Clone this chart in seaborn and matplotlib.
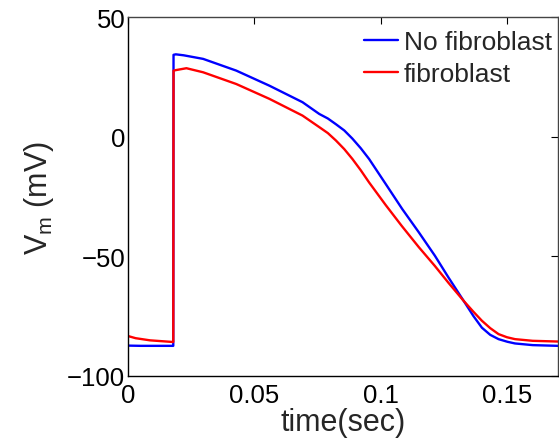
import matplotlib
matplotlib.use("Agg")
import matplotlib.pyplot as plt
import seaborn as sns
import pandas as pd

# ---- data ----
t_nofib = [0.0, 0.005, 0.010, 0.0179, 0.0180, 0.0189, 0.022, 0.0297, 0.0428,
           0.0559, 0.069, 0.0756, 0.0790, 0.0822, 0.0855, 0.0887, 0.0920, 0.0953,
           0.1019, 0.1084, 0.1150, 0.1213, 0.1268, 0.1327, 0.1366, 0.1399, 0.1432,
           0.1465, 0.1500, 0.1530, 0.1600, 0.1700]
v_nofib = [-87.3, -87.4, -87.4, -87.4, 34.2, 34.4, 34.0, 32.5, 27.6,
           21.3, 14.4, 9.5, 7.6, 5.2, 2.6, -0.8, -4.8, -9.3,
           -19.8, -30.2, -40.0, -49.7, -59.0, -68.6, -75.0, -79.8, -82.8,
           -84.6, -85.7, -86.4, -87.1, -87.4]

t_fib = [0.0, 0.003, 0.0087, 0.0179, 0.0180, 0.0189, 0.0231, 0.0297, 0.0428,
         0.0559, 0.069, 0.0756, 0.0790, 0.0822, 0.0855, 0.0887, 0.0920, 0.0953,
         0.1019, 0.1083, 0.1150, 0.1213, 0.1268, 0.1327, 0.1366, 0.1399, 0.1432,
         0.1465, 0.1498, 0.1530, 0.1600, 0.1700]
v_fib = [-83.3, -84.2, -85.1, -85.8, 27.6, 27.8, 28.6, 26.9, 22.0,
         15.8, 8.8, 4.0, 1.5, -1.6, -5.2, -9.3, -14.0, -19.1,
         -28.6, -37.4, -46.2, -54.0, -61.2, -68.6, -73.2, -76.9, -80.0,
         -82.5, -83.8, -84.6, -85.3, -85.6]

series_names = ["No fibroblast", "fibroblast"]
series_colors = ["#0000ff", "#ff0000"]
x_ticks = [0, 0.05, 0.1, 0.15]
x_ticklabels = ["0", "0.05", "0.1", "0.15"]
y_ticks = [-100, -50, 0, 50]
y_ticklabels = ["\u2212100", "\u221250", "0", "50"]

df = pd.concat([
    pd.DataFrame({"t": t_nofib, "v": v_nofib, "series": series_names[0]}),
    pd.DataFrame({"t": t_fib, "v": v_fib, "series": series_names[1]}),
], ignore_index=True)

sns.set_style("white")
plt.rcParams["font.family"] = ["Liberation Sans", "DejaVu Sans"]
plt.rcParams["mathtext.fontset"] = "custom"
plt.rcParams["mathtext.rm"] = "Liberation Sans"
plt.rcParams["mathtext.it"] = "Liberation Sans"

fig = plt.figure(figsize=(5.59, 4.39), dpi=100)
ax = fig.add_axes([128 / 559, 1 - 377 / 439, 430 / 559, 359 / 439])

sns.lineplot(data=df, x="t", y="v", hue="series", hue_order=series_names,
             palette=dict(zip(series_names, series_colors)), linewidth=1.7,
             estimator=None, sort=False, ax=ax)

ax.set_xlim(0, 0.17)
ax.set_ylim(-100, 50)
ax.set_xticks(x_ticks)
ax.set_xticklabels(x_ticklabels)
ax.set_yticks(y_ticks)
ax.set_yticklabels(y_ticklabels)
ax.tick_params(direction="in", length=5, width=0.8, labelsize=18.5,
               top=True, right=True, colors="black", pad=2)
ax.tick_params(axis="x", pad=5)
for s in ["left", "bottom"]:
    ax.spines[s].set_color("black")
    ax.spines[s].set_linewidth(1.0)
for s in ["top", "right"]:
    ax.spines[s].set_color("#444444")
    ax.spines[s].set_linewidth(1.0)

ax.set_xlabel("time(sec)", fontsize=22, labelpad=0)
ax.set_ylabel("V$_\\mathregular{m}$ (mV)", fontsize=22, labelpad=8)

leg = ax.legend(frameon=False, loc="upper right", fontsize=19,
                handlelength=1.3, handletextpad=0.2, labelspacing=0.3,
                borderaxespad=0.0, borderpad=0.2,
                bbox_to_anchor=(1.0 - 1 / 430, 1.0 - 8 / 359))
for line in leg.get_lines():
    line.set_linewidth(1.7)

fig.savefig("out.png", dpi=100)
